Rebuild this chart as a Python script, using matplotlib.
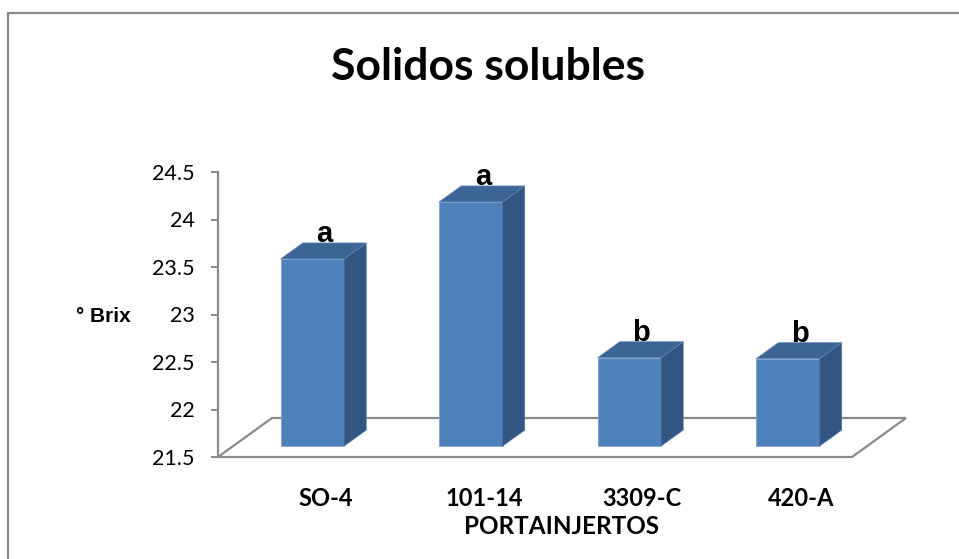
import matplotlib
matplotlib.use("Agg")
import matplotlib.pyplot as plt
from matplotlib.patches import Polygon, Rectangle
from matplotlib.transforms import ScaledTranslation, blended_transform_factory, IdentityTransform
import numpy as np

categories = ["SO-4", "101-14", "3309-C", "420-A"]
brix = [23.47, 24.07, 22.43, 22.42]
letters = ["a", "a", "b", "b"]
yticks = [21.5, 22, 22.5, 23, 23.5, 24, 24.5]
title = "Solidos solubles"
ylabel = "° Brix"
xlabel = "PORTAINJERTOS"

plt.rcParams["font.family"] = ["Lato", "DejaVu Sans"]

DPI = 100
W, H = 959, 559
GREY = "#8a8a8a"
FRONT = "#4f81bd"
TOP = "#3c6494"
SIDE = "#325581"

fig = plt.figure(figsize=(W / DPI, H / DPI), dpi=DPI)
ax = fig.add_axes([218 / W, 102 / H, 634 / W, 285 / H])
ax.set_xlim(-0.5, 3.5)
ax.set_ylim(yticks[0], yticks[-1])
ax.patch.set_visible(False)

# oblique depth of the floor (pixels) and where the columns sit within it
DX, DY = 54, 39
F0, F1 = 0.28, 0.69
BAR_W = 0.4
base = yticks[0]

def shift(dx, dy):
    return ScaledTranslation(dx / DPI, dy / DPI, fig.dpi_scale_trans)

ident = IdentityTransform()
xs = np.arange(len(categories))

# floor parallelogram
fl = ax.transData.transform((-0.5, base))
fr = ax.transData.transform((3.5, base))
floor = [fl, fr, fr + (DX, DY), fl + (DX, DY)]
ax.add_patch(Polygon(floor, closed=True, fill=False, ec=GREY, lw=1.6,
                     transform=ident, clip_on=False, zorder=1))

# columns: front faces through ax.bar, shifted into the floor depth
o0 = np.array([F0 * DX, F0 * DY])
o1 = np.array([F1 * DX, F1 * DY])
d = o1 - o0
ax.bar(xs, [v - base for v in brix], bottom=base, width=BAR_W, color=FRONT,
       ec="#7fa3d0", lw=0.6, transform=ax.transData + shift(*o0),
       zorder=3, clip_on=False)

for x, v in zip(xs, brix):
    br = ax.transData.transform((x + BAR_W / 2, base)) + o0
    tr = ax.transData.transform((x + BAR_W / 2, v)) + o0
    tl = ax.transData.transform((x - BAR_W / 2, v)) + o0
    side = [br, br + d, tr + d, tr]
    top = [tl, tr, tr + d, tl + d]
    ax.add_patch(Polygon(side, closed=True, fc=SIDE, ec="#5377a6", lw=0.5,
                         transform=ident, clip_on=False, zorder=3))
    ax.add_patch(Polygon(top, closed=True, fc=TOP, ec="#5d84b5", lw=0.5,
                         transform=ident, clip_on=False, zorder=3))

# significance letters above the columns
for x, v, s in zip(xs, brix, letters):
    ax.text(x, v, s, ha="center", va="baseline", fontsize=21, fontweight="bold",
            family=["Liberation Sans", "DejaVu Sans"],
            transform=ax.transData + shift(o0[0] + d[0] / 2 + 1, o1[1] + 1),
            zorder=4)

# axes styling
for side_name in ("top", "right", "bottom"):
    ax.spines[side_name].set_visible(False)
ax.spines["left"].set_color(GREY)
ax.spines["left"].set_linewidth(1.6)
ax.set_yticks(yticks)
ax.set_yticklabels([f"{t:g}" for t in yticks])
ax.tick_params(axis="y", direction="out", length=5, width=1.4, color=GREY,
               labelsize=15.5, pad=12, labelcolor="black")
ax.set_xticks([])

# category labels at mid depth of the floor
cat_tr = blended_transform_factory(ax.transData, ax.transAxes) + shift(28, -41)
for x, c in zip(xs, categories):
    ax.text(x, 0, c, ha="center", va="center", fontsize=17, fontweight="bold",
            transform=cat_tr)

ax.text(0.5, 0, xlabel, ha="center", va="center", fontsize=17.5, fontweight="bold",
        transform=ax.transAxes + shift(26, -69))

fig.text(103 / W, 1 - 316 / H, ylabel, ha="center", va="center", fontsize=15,
         fontweight="bold", family=["Liberation Sans", "DejaVu Sans"])

fig.text(488 / W, 1 - 67 / H, title, ha="center", va="center", fontsize=32,
         fontweight="bold")

# chart area border
fig.add_artist(Rectangle((8 / W, -0.1), 1.2, (H - 13) / H + 0.1,
                         transform=fig.transFigure, fill=False, ec=GREY, lw=1.6))

fig.savefig("out.png", dpi=DPI)
